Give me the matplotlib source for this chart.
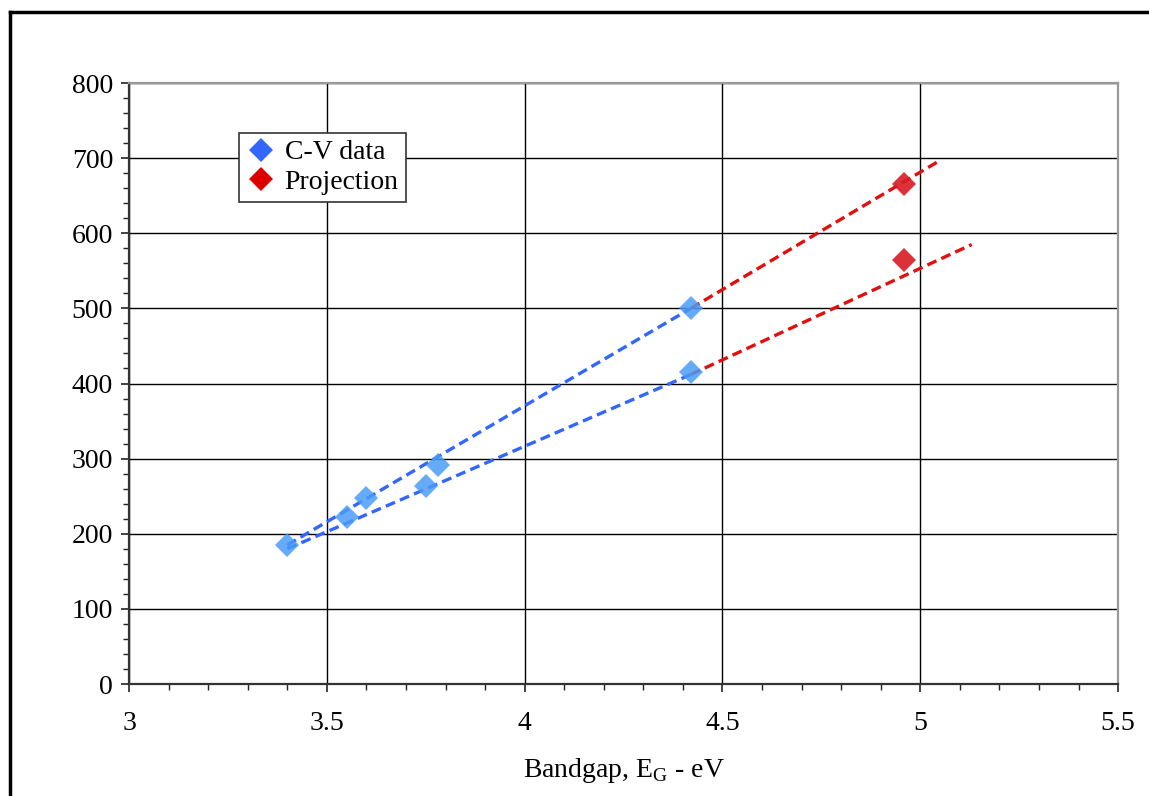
import matplotlib
matplotlib.use("Agg")
import matplotlib.pyplot as plt
from matplotlib.lines import Line2D
from matplotlib.ticker import MultipleLocator

plt.rcParams['font.family'] = ['Liberation Serif', 'DejaVu Serif']
plt.rcParams['mathtext.fontset'] = 'custom'
plt.rcParams['mathtext.rm'] = 'Liberation Serif'

# measured C-V points
cv_eg = [3.40, 3.55, 3.60, 3.75, 3.78, 4.42, 4.42]
cv_val = [185, 222, 247, 263, 292, 500, 415]

# projected points
proj_eg = [4.96, 4.96]
proj_val = [665, 565]

# trend lines (fit over data, then extended)
fit_hi_eg = [3.40, 4.42]
fit_hi_val = [185, 500]
fit_lo_eg = [3.40, 4.42]
fit_lo_val = [180, 412]
ext_hi_eg = [4.42, 5.05]
ext_hi_val = [500, 697]
ext_lo_eg = [4.42, 5.13]
ext_lo_val = [412, 585]

fig = plt.figure(figsize=(11.49, 7.96), dpi=100)
ax = fig.add_axes([0.1123, 0.1407, 0.8608, 0.755])

blue_line = '#3366ff'
red_line = '#e01010'
dash = (3, 1.6)

ax.plot(fit_hi_eg, fit_hi_val, color=blue_line, lw=2.4, dashes=dash, zorder=3)
ax.plot(fit_lo_eg, fit_lo_val, color=blue_line, lw=2.4, dashes=dash, zorder=3)
ax.plot(ext_hi_eg, ext_hi_val, color=red_line, lw=2.4, dashes=dash, zorder=3)
ax.plot(ext_lo_eg, ext_lo_val, color=red_line, lw=2.4, dashes=dash, zorder=3)

ax.plot(cv_eg, cv_val, 'D', color='#4a9cf7', alpha=0.85, ms=12, mew=0, zorder=4)
ax.plot(proj_eg, proj_val, 'D', color='#d81c24', alpha=0.9, ms=12, mew=0, zorder=4)

ax.set_xlim(3, 5.5)
ax.set_ylim(0, 800)
ax.xaxis.set_minor_locator(MultipleLocator(0.1))
ax.yaxis.set_major_locator(MultipleLocator(100))
ax.yaxis.set_minor_locator(MultipleLocator(20))
ax.set_xticks([3, 3.5, 4, 4.5, 5, 5.5])
ax.set_xticklabels(['3', '3.5', '4', '4.5', '5', '5.5'])

ax.grid(True, which='major', color='black', lw=1.0, zorder=1)
ax.set_axisbelow(True)
ax.tick_params(which='both', direction='out', labelsize=20, color='#222222')
ax.tick_params(which='major', length=5.5, width=1.2)
ax.tick_params(which='minor', length=4, width=1.0)
ax.tick_params(axis='y', which='major', pad=6)
ax.tick_params(axis='x', which='major', pad=14)

for side in ['left', 'bottom']:
    ax.spines[side].set_color('#333333')
    ax.spines[side].set_linewidth(1.6)
for side in ['top', 'right']:
    ax.spines[side].set_color('#999999')
    ax.spines[side].set_linewidth(1.6)

ax.set_xlabel(r'Bandgap, E$_{\mathrm{G}}$ - eV', fontsize=20, labelpad=14)

handles = [
    Line2D([], [], marker='D', ls='none', color='#3366ff', ms=12, mew=0),
    Line2D([], [], marker='D', ls='none', color='#dd0000', ms=12, mew=0),
]
leg = ax.legend(handles, ['C-V data', 'Projection'], loc='upper left',
                bbox_to_anchor=(0.111, 0.917), fontsize=20, frameon=True,
                fancybox=False, edgecolor='#333333', framealpha=1,
                handlelength=1.1, handletextpad=0.3, borderpad=0.25,
                labelspacing=0.15, borderaxespad=0)
leg.get_frame().set_linewidth(1.2)

# frame lines along the left and top edges of the figure
fig.add_artist(Line2D([0.0087, 0.0087], [0, 0.985], color='black', lw=2.5,
                      transform=fig.transFigure))
fig.add_artist(Line2D([0.0087, 1.0], [0.985, 0.985], color='black', lw=2.5,
                      transform=fig.transFigure))

fig.savefig('out.png', dpi=100)
